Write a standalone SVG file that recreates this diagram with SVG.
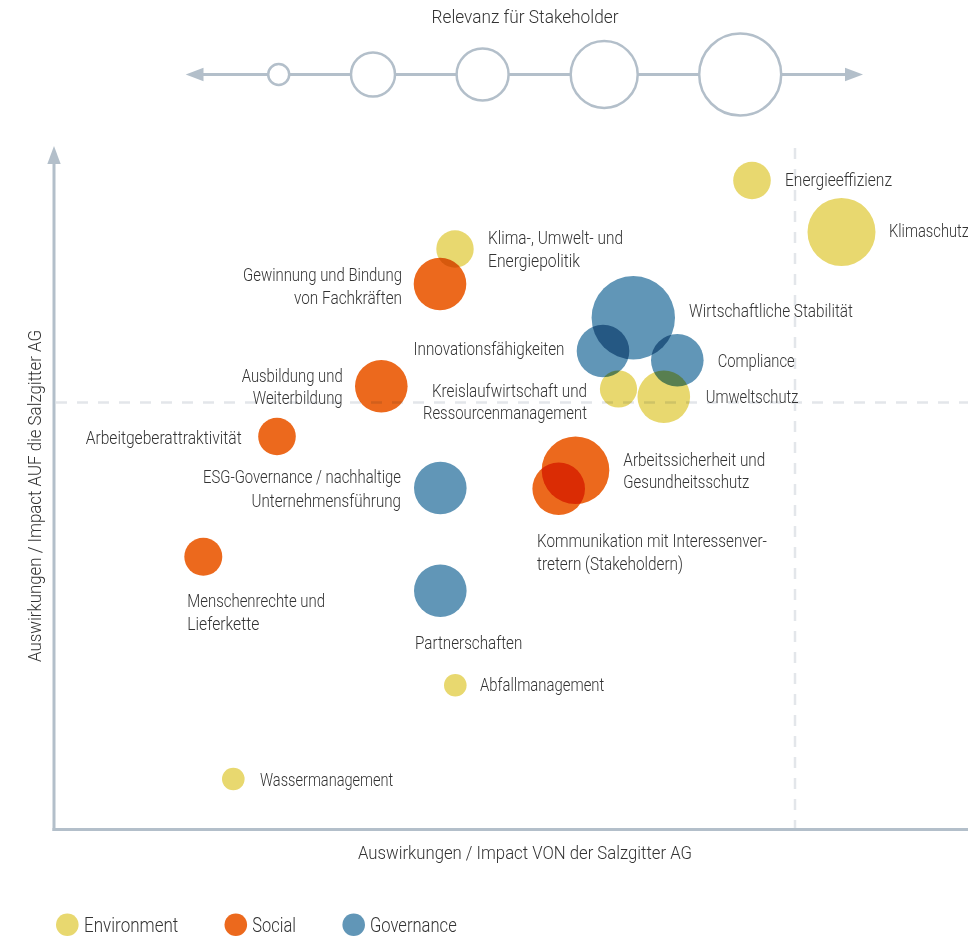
<svg xmlns="http://www.w3.org/2000/svg" width="968" height="937" viewBox="0 0 968 937">
<style>
text{font-family:Roboto,"Liberation Sans",sans-serif;font-weight:300;font-size:19px;fill:#333;}
.end{text-anchor:end;}
.mid{text-anchor:middle;}
.leg{font-size:21px;}
.axis{stroke:#b3bfca;stroke-width:3;fill:none;}
.head{fill:#b3bfca;}
.scale{fill:#fff;stroke:#b3bfca;stroke-width:2.5;}
.dash{stroke:#e3e6ea;stroke-width:2.5;stroke-dasharray:11 10;fill:none;}
.b{mix-blend-mode:multiply;}
.env{fill:#e8d86f;}
.soc{fill:#ec691d;}
.gov{fill:#6196b7;}
</style>
<rect width="968" height="937" fill="#fff"/>

<g id="relevance-scale">
<text class="mid" x="525" y="23" textLength="187" lengthAdjust="spacingAndGlyphs">Relevanz für Stakeholder</text>
<line class="axis" x1="200" y1="74.5" x2="848" y2="74.5"/>
<polygon class="head" points="185.7,74.5 203.5,67.8 203.5,81.2"/>
<polygon class="head" points="863,74.5 845,67.8 845,81.2"/>
<circle class="scale" cx="278.7" cy="74.5" r="10.5"/>
<circle class="scale" cx="373" cy="74.5" r="22"/>
<circle class="scale" cx="482.6" cy="74.5" r="26"/>
<circle class="scale" cx="604.2" cy="74.5" r="33.5"/>
<circle class="scale" cx="740.2" cy="74.5" r="41"/>
</g>

<g id="axes">
<line class="dash" x1="56" y1="402.5" x2="968" y2="402.5"/>
<line class="dash" x1="795" y1="148" x2="795" y2="828"/>
<line class="axis" x1="54" y1="162" x2="54" y2="831"/>
<polygon class="head" points="54,146 47.3,164 60.7,164"/>
<line class="axis" x1="52.5" y1="829.5" x2="968" y2="829.5"/>
<text class="mid" transform="translate(41 496) rotate(-90)" textLength="332" lengthAdjust="spacingAndGlyphs">Auswirkungen / Impact AUF die Salzgitter AG</text>
<text class="mid" x="525" y="859" textLength="334" lengthAdjust="spacingAndGlyphs">Auswirkungen / Impact VON der Salzgitter AG</text>
</g>

<g id="bubbles">
<g id="energieeffizienz"><circle class="b env" cx="752" cy="180.5" r="18.8"/><text x="785" y="186" textLength="107" lengthAdjust="spacingAndGlyphs">Energieeffizienz</text></g>
<g id="klimaschutz"><circle class="b env" cx="841.5" cy="232" r="34"/><text x="889" y="237" textLength="80" lengthAdjust="spacingAndGlyphs">Klimaschutz</text></g>
<g id="klimapolitik"><circle class="b env" cx="455" cy="249" r="18.7"/><text x="488" y="244" textLength="135" lengthAdjust="spacingAndGlyphs">Klima-, Umwelt- und</text><text x="488" y="266.5" textLength="92" lengthAdjust="spacingAndGlyphs">Energiepolitik</text></g>
<g id="fachkraefte"><circle class="b soc" cx="440" cy="284" r="26.3"/><text class="end" x="402" y="281" textLength="159" lengthAdjust="spacingAndGlyphs">Gewinnung und Bindung</text><text class="end" x="402" y="303.5" textLength="108" lengthAdjust="spacingAndGlyphs">von Fachkräften</text></g>
<g id="stabilitaet"><circle class="b gov" cx="633.3" cy="317.7" r="41.7"/><text x="689" y="317" textLength="164" lengthAdjust="spacingAndGlyphs">Wirtschaftliche Stabilität</text></g>
<g id="innovation"><circle class="b gov" cx="603" cy="351" r="26.3"/><text class="end" x="564.5" y="355" textLength="151" lengthAdjust="spacingAndGlyphs">Innovationsfähigkeiten</text></g>
<g id="compliance"><circle class="b gov" cx="677.3" cy="360.3" r="26.3"/><text x="717.7" y="367" textLength="77" lengthAdjust="spacingAndGlyphs">Compliance</text></g>
<g id="kreislauf"><circle class="b env" cx="618.5" cy="389" r="18.6"/><text class="end" x="587" y="396.7" textLength="155" lengthAdjust="spacingAndGlyphs">Kreislaufwirtschaft und</text><text class="end" x="587" y="418.5" textLength="164" lengthAdjust="spacingAndGlyphs">Ressourcenmanagement</text></g>
<g id="umweltschutz"><circle class="b env" cx="663.8" cy="396.8" r="26.3"/><text x="705.7" y="403" textLength="92.7" lengthAdjust="spacingAndGlyphs">Umweltschutz</text></g>
<g id="ausbildung"><circle class="b soc" cx="381.3" cy="386.3" r="26.3"/><text class="end" x="342.7" y="381.7" textLength="101" lengthAdjust="spacingAndGlyphs">Ausbildung und</text><text class="end" x="342.7" y="404.3" textLength="90" lengthAdjust="spacingAndGlyphs">Weiterbildung</text></g>
<g id="arbeitgeber"><circle class="b soc" cx="277" cy="436.5" r="18.8"/><text class="end" x="241.7" y="444" textLength="156" lengthAdjust="spacingAndGlyphs">Arbeitgeberattraktivität</text></g>
<g id="arbeitssicherheit"><circle class="b soc" cx="575.5" cy="470.3" r="33.8"/><text x="623.3" y="465.7" textLength="142" lengthAdjust="spacingAndGlyphs">Arbeitssicherheit und</text><text x="623.3" y="488.3" textLength="126" lengthAdjust="spacingAndGlyphs">Gesundheitsschutz</text></g>
<g id="kommunikation"><circle class="b soc" cx="558.7" cy="488.8" r="26.3"/><text x="537" y="547" textLength="230" lengthAdjust="spacingAndGlyphs">Kommunikation mit Interessenver-</text><text x="537" y="570" textLength="146" lengthAdjust="spacingAndGlyphs">tretern (Stakeholdern)</text></g>
<g id="esg"><circle class="b gov" cx="440.3" cy="488" r="26.3"/><text class="end" x="401" y="483.3" textLength="198" lengthAdjust="spacingAndGlyphs">ESG-Governance / nachhaltige</text><text class="end" x="401" y="506.7" textLength="149.5" lengthAdjust="spacingAndGlyphs">Unternehmensführung</text></g>
<g id="menschenrechte"><circle class="b soc" cx="203.3" cy="556.7" r="19"/><text x="187.3" y="607.3" textLength="137.7" lengthAdjust="spacingAndGlyphs">Menschenrechte und</text><text x="187.3" y="630" textLength="72" lengthAdjust="spacingAndGlyphs">Lieferkette</text></g>
<g id="partnerschaften"><circle class="b gov" cx="440.3" cy="590.7" r="26.3"/><text x="415" y="649" textLength="107.3" lengthAdjust="spacingAndGlyphs">Partnerschaften</text></g>
<g id="abfall"><circle class="b env" cx="455.3" cy="685.3" r="11.3"/><text x="480" y="691" textLength="124.3" lengthAdjust="spacingAndGlyphs">Abfallmanagement</text></g>
<g id="wasser"><circle class="b env" cx="233.3" cy="779" r="11.3"/><text x="260" y="786" textLength="133.3" lengthAdjust="spacingAndGlyphs">Wassermanagement</text></g>
</g>

<g id="legend">
<g id="legend-env"><circle class="env" cx="67.3" cy="924.7" r="11.3"/><text class="leg" x="84" y="931.7" textLength="94.3" lengthAdjust="spacingAndGlyphs">Environment</text></g>
<g id="legend-soc"><circle class="soc" cx="235.8" cy="924.7" r="11.3"/><text class="leg" x="252.3" y="931.7" textLength="43.7" lengthAdjust="spacingAndGlyphs">Social</text></g>
<g id="legend-gov"><circle class="gov" cx="353.7" cy="924.7" r="11.3"/><text class="leg" x="370" y="931.7" textLength="86.7" lengthAdjust="spacingAndGlyphs">Governance</text></g>
</g>
</svg>
